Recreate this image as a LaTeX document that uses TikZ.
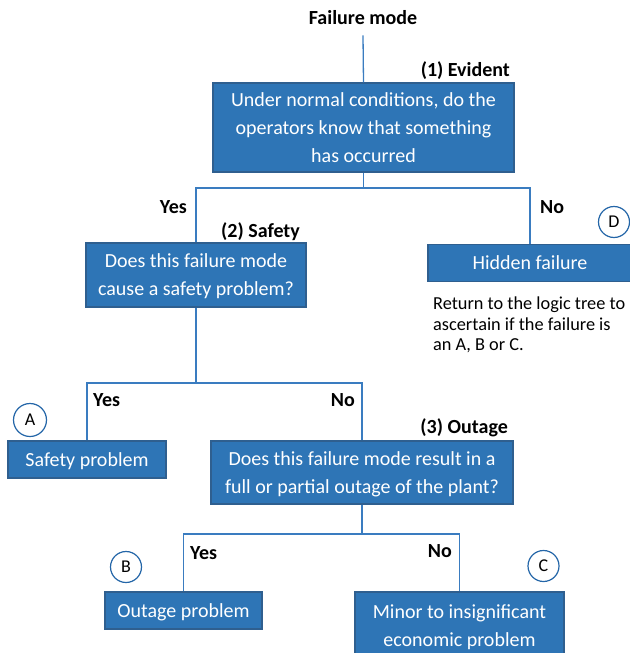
\documentclass[tikz,border=0pt]{standalone}
\usepackage{fontspec}
\setmainfont{Carlito}
\begin{document}
\begin{tikzpicture}[x=1pt,y=-1pt,
  box/.style={draw=boxedge,fill=boxfill,line width=1.2pt,text=white,
    font=\fontsize{20}{28}\selectfont,align=center,inner sep=0pt,text depth=0pt},
  multi/.style={text depth=-4pt},
  lbl/.style={font=\bfseries\fontsize{20}{22}\selectfont,inner sep=0pt},
  note/.style={font=\fontsize{18.3}{20.5}\selectfont,align=left,inner sep=0pt,anchor=north west},
  tag/.style={circle,draw=tagedge,line width=1.2pt,fill=white,minimum size=31pt,inner sep=0pt,
    font=\fontsize{18}{20}\selectfont},
  link/.style={draw=linkc,line width=1.3pt}]
\definecolor{boxfill}{HTML}{2E75B6}
\definecolor{boxedge}{HTML}{2F5F8F}
\definecolor{linkc}{HTML}{3A7CC0}
\definecolor{tagedge}{HTML}{2466A8}
\useasboundingbox (0,0) rectangle (629,653);

% title
\node[lbl] (fm) at (363,18) {Failure mode};

% decision and outcome boxes
\node[box,multi,minimum width=301pt,minimum height=89pt] (q1) at (363.5,127.5)
  {Under normal conditions, do the\\operators know that something\\has occurred};
\node[box,multi,minimum width=220pt,minimum height=64pt] (q2) at (196,275)
  {Does this failure mode\\cause a safety problem?};
\node[box,minimum width=204pt,minimum height=37pt] (hid) at (530,263) {Hidden failure};
\node[box,minimum width=158pt,minimum height=37pt] (safe) at (87,459.5) {Safety problem};
\node[box,multi,minimum width=302pt,minimum height=63pt] (q3) at (362,472.5)
  {Does this failure mode result in a\\full or partial outage of the plant?};
\node[box,minimum width=157pt,minimum height=37pt] (outp) at (183.5,610.5) {Outage problem};
\node[box,minimum width=209pt,minimum height=68pt] (minor) at (459.5,626)
  {Minor to insignificant\\economic problem};

% step labels
\node[lbl,anchor=east] (e1) at (510,71) {(1) Evident};
\node[lbl,anchor=east] (e2) at (300,232) {(2) Safety};
\node[lbl,anchor=east] (e3) at (508,428) {(3) Outage};

% yes / no labels
\node[lbl,anchor=east] (y1) at (187,207) {Yes};
\node[lbl,anchor=west] (n1) at (540,207) {No};
\node[lbl,anchor=west] (y2) at (93,400) {Yes};
\node[lbl,anchor=east] (n2) at (355,400) {No};
\node[lbl,anchor=west] (y3) at (190,553) {Yes};
\node[lbl,anchor=east] (n3) at (452,551) {No};

% category tags
\node[tag] (tD) at (614,222) {D};
\node[tag,minimum size=33pt] (tA) at (30,420) {A};
\node[tag] (tB) at (126,567) {B};
\node[tag] (tC) at (543.5,566) {C};

% note under the hidden failure box
\node[note] (ret) at (433,297) {Return to the logic tree to\\ascertain if the failure is\\an A, B or C.};

% connectors
\coordinate (j1) at (363.5,188);
\coordinate (j2) at (196,383);
\coordinate (j3) at (362,534);
\draw[link] (fm.south) ++(0,10) -- (q1.north);
\draw[link] (q1.south) -- (j1);
\draw[link] (q2.north) |- (j1) -| (hid.north);
\draw[link] (q2.south) -- (j2);
\draw[link] (safe.north) |- (j2) -| (q3.north);
\draw[link] (q3.south) -- (j3);
\draw[link] (outp.north) |- (j3) -| (minor.north);
\end{tikzpicture}
\end{document}
